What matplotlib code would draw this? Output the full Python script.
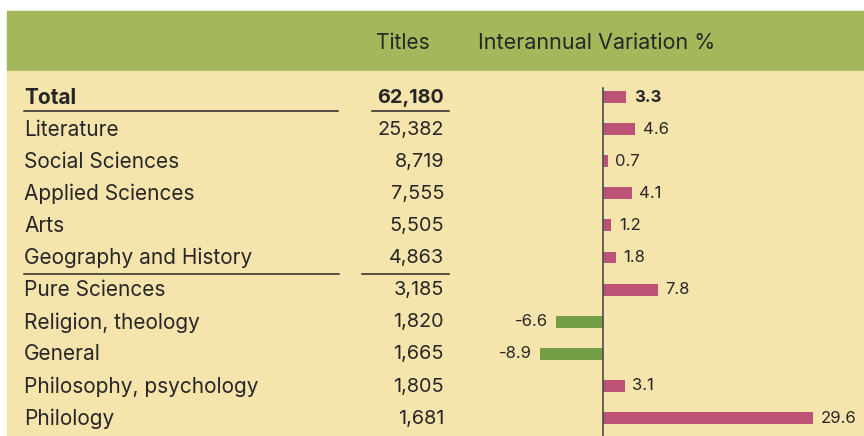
import matplotlib.pyplot as plt
import matplotlib.transforms as mtransforms
from matplotlib.patches import Rectangle

# data
categories = ["Total", "Literature", "Social Sciences", "Applied Sciences", "Arts",
              "Geography and History", "Pure Sciences", "Religion, theology",
              "General", "Philosophy, psychology", "Philology"]
titles = [62180, 25382, 8719, 7555, 5505, 4863, 3185, 1820, 1665, 1805, 1681]
variation = [3.3, 4.6, 0.7, 4.1, 1.2, 1.8, 7.8, -6.6, -8.9, 3.1, 29.6]

W, H = 864, 436
HEADER_GREEN = "#A3B85A"
BODY_YELLOW = "#F6E4AD"
PINK = "#BC5275"
GREEN = "#739E45"
INK = "#262626"
FONT = ["Inter", "Liberation Sans", "DejaVu Sans"]

fig = plt.figure(figsize=(W / 100, H / 100), dpi=100, facecolor="white")

# pixel axes for the whole figure (background panels + x positions of text)
bg = fig.add_axes([0, 0, 1, 1])
bg.set_xlim(0, W)
bg.set_ylim(H, 0)
bg.axis("off")
bg.patch.set_alpha(0)
bg.add_patch(Rectangle((7, 11), W - 7, 60, color=HEADER_GREEN, zorder=0))
bg.add_patch(Rectangle((7, 71), W - 7, H - 71, color=BODY_YELLOW, zorder=0))

# bar axes over the body, to the right
ax = fig.add_axes([480 / W, 0, 384 / W, 1 - 71 / H], zorder=2)
ax.set_xlim(-17.3, 36.8)
ax.set_ylim(10.56, -0.81)
ax.axis("off")
ax.patch.set_alpha(0)

rows = list(range(len(categories)))
colors = [PINK if v >= 0 else GREEN for v in variation]
ax.barh(rows, variation, height=0.37, color=colors, zorder=2)
ax.plot([0, 0], [-0.28, 10.56], color="#4a4a4a", lw=1.2, zorder=3)

for i, v in enumerate(variation):
    off = 1.05 if v >= 0 else -1.05
    ax.text(v + off, i, f"{v:.1f}", ha="left" if v >= 0 else "right", va="center",
            fontsize=12, color=INK, family=FONT,
            fontweight="bold" if i == 0 else "normal")

# table text: x in pixels, y in row units
tr = mtransforms.blended_transform_factory(bg.transData, ax.transData)
for i, (cat, t) in enumerate(zip(categories, titles)):
    w = "bold" if i == 0 else "normal"
    bg.text(24, i + 0.02, cat, transform=tr, ha="left", va="center", fontsize=15,
            color=INK, family=FONT, fontweight=w)
    bg.text(444, i + 0.02, f"{t:,}", transform=tr, ha="right", va="center", fontsize=14.3,
            color=INK, family=FONT, fontweight=w)

# underlines
bg.plot([24, 338], [0.45, 0.45], transform=tr, color=INK, lw=1.1)
bg.plot([372, 449], [0.45, 0.45], transform=tr, color=INK, lw=1.1)
bg.plot([24, 339], [5.52, 5.52], transform=tr, color=INK, lw=1.1)
bg.plot([362, 449], [5.52, 5.52], transform=tr, color=INK, lw=1.1)

# header
bg.text(403, 43, "Titles", ha="center", va="center", fontsize=15, color=INK, family=FONT)
bg.text(478, 43, "Interannual Variation %", ha="left", va="center", fontsize=15.5,
        color=INK, family=FONT)

fig.savefig("out.png", dpi=100, facecolor="white")
